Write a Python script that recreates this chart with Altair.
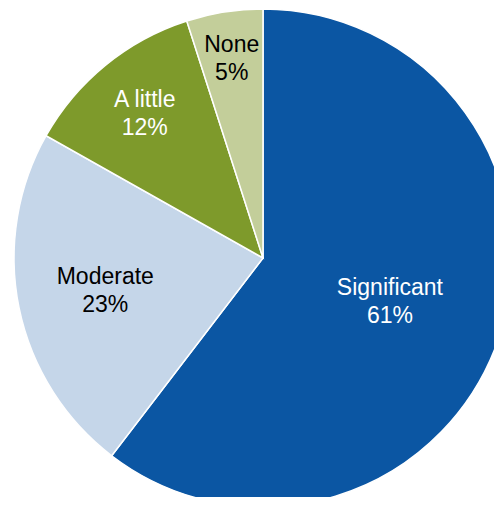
import altair as alt
import pandas as pd

# Data
categories = ["Significant", "Moderate", "A little", "None"]
values = [61, 23, 12, 5]
pct_labels = ["61%", "23%", "12%", "5%"]

# Styles / layout (kept separate from data)
slice_colors = ["#0B56A3", "#C5D6E9", "#7E9A2B", "#C3CE9A"]
text_colors = ["#FFFFFF", "#000000", "#FFFFFF", "#000000"]
label_radius = [134, 161, 187, 202]

df = pd.DataFrame({
    "category": categories,
    "value": values,
    "order": list(range(len(categories))),
    "label": [f"{c}\n{p}" for c, p in zip(categories, pct_labels)],
    "lr": label_radius,
    "tc": text_colors,
})

CX, CY, R = 255, 250, 249

arcs = alt.Chart(df).mark_arc(outerRadius=R, stroke="white", strokeWidth=1.5).encode(
    theta=alt.Theta("value:Q", stack=True),
    order=alt.Order("order:Q", sort="ascending"),
    x=alt.value(CX),
    y=alt.value(CY),
    color=alt.Color("category:N",
                    scale=alt.Scale(domain=categories, range=slice_colors),
                    legend=None),
)

texts = alt.Chart(df).transform_window(
    cum="sum(value)", sort=[alt.SortField("order", order="ascending")],
    frame=[None, 0],
).transform_joinaggregate(
    total="sum(value)"
).transform_calculate(
    mid="(datum.cum - datum.value / 2) / datum.total * 2 * PI",
).transform_calculate(
    px=f"{CX} + datum.lr * sin(datum.mid)",
    py=f"{CY} - datum.lr * cos(datum.mid)",
).mark_text(
    font="Liberation Sans", fontSize=23, lineBreak="\n", lineHeight=28,
    align="center", baseline="middle", dy=-13,
).encode(
    x=alt.X("px:Q", scale=None, axis=None),
    y=alt.Y("py:Q", scale=None, axis=None),
    text="label:N",
    color=alt.Color("tc:N", scale=None, legend=None),
)

chart = alt.layer(arcs, texts).properties(
    width=486, height=489, padding=0,
    autosize=alt.AutoSizeParams(type="none"),
).configure_view(stroke=None)

chart.save("out.html", embed_options={"renderer": "svg", "actions": False})
